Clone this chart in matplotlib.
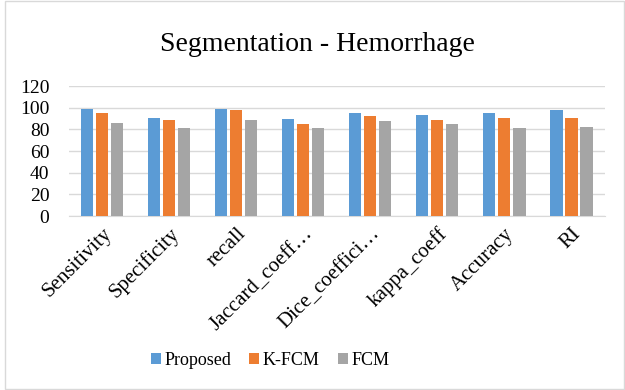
import matplotlib
matplotlib.use("Agg")
import matplotlib.pyplot as plt
import numpy as np
from matplotlib.patches import Rectangle

categories = ["Sensitivity", "Specificity", "recall", "Jaccard_coeff…", "Dice_coeffici…",
              "kappa_coeff", "Accuracy", "RI"]
proposed = [99, 91, 99, 90, 95, 93, 95, 98]
kfcm = [95, 89, 98, 85, 92, 89, 91, 91]
fcm = [86, 81, 89, 81, 88, 85, 81, 82]
series_names = ["Proposed", "K-FCM", "FCM"]
colors = ["#5B9BD5", "#ED7D31", "#A5A5A5"]
yticks = [0, 20, 40, 60, 80, 100, 120]

plt.rcParams['font.family'] = ['Liberation Serif', 'DejaVu Serif']

fig = plt.figure(figsize=(6.25, 3.9), dpi=100)
ax = fig.add_axes([0.110, 0.446, 0.858, 0.333])

x = np.arange(len(categories))
w = 0.18
step = 0.224
for i, (vals, name, c) in enumerate(zip([proposed, kfcm, fcm], series_names, colors)):
    ax.bar(x + (i - 1) * step, vals, width=w, color=c, label=name, zorder=3)

ax.set_xlim(-0.5, len(categories) - 0.5)
ax.set_ylim(0, 120)
ax.set_yticks(yticks)
ax.yaxis.grid(True, color="#D9D9D9", linewidth=1, zorder=0)
for s in ["top", "right", "left"]:
    ax.spines[s].set_visible(False)
ax.spines["bottom"].set_color("#D9D9D9")
ax.tick_params(axis="both", length=0, colors="#000000")
ax.tick_params(axis="y", pad=14, labelsize=14)
ax.set_xticks(x)
ax.set_xticklabels(categories, rotation=45, ha="right", rotation_mode="anchor", fontsize=15)
ax.tick_params(axis="x", pad=6)

fig.text(0.508, 0.885, "Segmentation - Hemorrhage", ha="center", va="center", fontsize=20)

handles, labels = ax.get_legend_handles_labels()
fig.legend(handles, labels, loc="center", bbox_to_anchor=(0.432, 0.075), ncol=3, frameon=False,
           fontsize=13, handlelength=0.55, handleheight=0.55, handletextpad=0.2, columnspacing=1.0)

fig.add_artist(Rectangle((0.008, 0.003), 0.99, 0.994, transform=fig.transFigure, fill=False,
                         edgecolor="#D9D9D9", linewidth=1))

fig.savefig("out.png", dpi=100)
